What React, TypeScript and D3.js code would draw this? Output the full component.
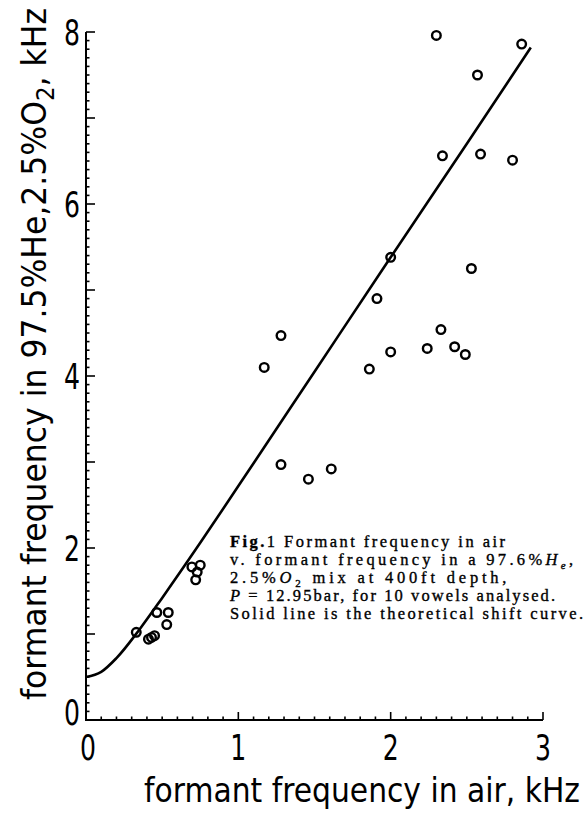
import React from 'react';
import * as d3 from 'd3';

// formant frequency in air (kHz) vs in 97.5%He / 2.5%O2 (kHz)
const airFreq = [
  0.33, 0.41, 0.43, 0.45, 0.465, 0.54, 0.53, 0.695, 0.75, 0.73, 0.72,
  1.17, 1.28, 1.28, 1.46, 1.61, 1.86, 1.91, 2.0, 2.0, 2.24, 2.33, 2.42,
  2.49, 2.53, 2.34, 2.59, 2.8, 2.57, 2.3, 2.86,
];
const heliumFreq = [
  1.02, 0.94, 0.96, 0.98, 1.25, 1.25, 1.11, 1.78, 1.8, 1.72, 1.63,
  4.1, 4.47, 2.97, 2.8, 2.92, 4.08, 4.9, 5.38, 4.28, 4.32, 4.54, 4.34,
  4.25, 5.25, 6.56, 6.58, 6.51, 7.5, 7.96, 7.86,
];

// theoretical shift curve
const curveAir = [0, 0.1, 0.2, 0.35, 0.5, 0.75, 1, 1.5, 2, 2.5, 2.92];
const curveHe = [0.5, 0.56, 0.72, 1.05, 1.42, 2.06, 2.72, 4.05, 5.38, 6.7, 7.82];

const xTickLabels = [0, 1, 2, 3];
const yTickLabels = [0, 2, 4, 6, 8];

const W = 588;
const H = 816;
const sans = "'DejaVu Sans', sans-serif";
const serif = "'Liberation Serif', 'DejaVu Serif', serif";

export default function App() {
  const x = d3.scaleLinear().domain([0, 3]).range([86, 543]);
  const y = d3.scaleLinear().domain([0, 8]).range([720, 32]);

  const line = d3
    .line<number>()
    .x((d, i) => x(curveAir[i]))
    .y((d) => y(d))
    .curve(d3.curveMonotoneX);

  const xMinor = d3.range(0, 31).map((i) => i / 10);
  const yMinor = d3.range(0, 81).map((i) => i / 10);

  return (
    <svg width={W} height={H} style={{ position: 'absolute', left: 0, top: 0, background: '#fff' }}>
      {/* axes */}
      <path
        d={`M${x(0)},${y(8)}V${y(0)}H${x(3)}`}
        fill="none"
        stroke="#000"
        strokeWidth={2}
      />
      {yMinor.map((v, i) => (
        <line
          key={'yt' + i}
          x1={x(0)}
          x2={x(0) + (i % 10 === 0 ? 9 : 3.5)}
          y1={y(v)}
          y2={y(v)}
          stroke="#000"
          strokeWidth={1.6}
        />
      ))}
      {xMinor.map((v, i) => (
        <line
          key={'xt' + i}
          x1={x(v)}
          x2={x(v)}
          y1={y(0)}
          y2={y(0) - (i % 10 === 0 ? 8 : 3.5)}
          stroke="#000"
          strokeWidth={1.6}
        />
      ))}

      {/* tick labels */}
      {yTickLabels.map((v) => (
        <text
          key={'yl' + v}
          x={72}
          y={v === 0 ? y(v) - 8 : y(v)}
          dy="0.36em"
          textAnchor="middle"
          fontFamily={sans}
          fontSize={36}
          textLength={16}
          lengthAdjust="spacingAndGlyphs"
        >
          {v}
        </text>
      ))}
      {xTickLabels.map((v) => (
        <text
          key={'xl' + v}
          x={x(v) + (v === 0 ? 2 : 0)}
          y={747}
          dy="0.36em"
          textAnchor="middle"
          fontFamily={sans}
          fontSize={36}
          textLength={16}
          lengthAdjust="spacingAndGlyphs"
        >
          {v}
        </text>
      ))}

      {/* axis titles */}
      <text
        x={144}
        y={802}
        fontFamily={sans}
        fontSize={33}
        textLength={436}
        lengthAdjust="spacingAndGlyphs"
      >
        formant frequency in air, kHz
      </text>
      <text
        transform="translate(46,700) rotate(-90)"
        fontFamily={sans}
        fontSize={33}
        textLength={692}
        lengthAdjust="spacingAndGlyphs"
      >
        formant frequency in 97.5%He,2.5%O
        <tspan fontSize={24} baselineShift={-8}>2</tspan>, kHz
      </text>

      {/* theoretical curve */}
      <path d={line(curveHe) || ''} fill="none" stroke="#000" strokeWidth={2.6} />

      {/* measured formants */}
      {airFreq.map((a, i) => (
        <circle
          key={'p' + i}
          cx={x(a)}
          cy={y(heliumFreq[i])}
          r={4.3}
          fill="none"
          stroke="#000"
          strokeWidth={2.4}
        />
      ))}

      {/* caption */}
      <g fontFamily={serif} fontSize={16.5} fill="#000" stroke="#000" strokeWidth={0.35}>
        <text x={230} y={547} textLength={275} lengthAdjust="spacing">
          <tspan fontWeight="bold">Fig.</tspan>1 Formant frequency in air
        </text>
        <text x={230} y={565} textLength={343} lengthAdjust="spacing">
          v. formant frequency in a 97.6%<tspan fontStyle="italic">H</tspan>
          <tspan fontStyle="italic" fontSize={11} baselineShift={-4}>e</tspan>,
        </text>
        <text x={230} y={583} letterSpacing={3.8}>
          2.5%<tspan fontStyle="italic">O</tspan>
          <tspan fontSize={11} baselineShift={-4}>2</tspan>
          {' mix at 400ft depth,'}
        </text>
        <text x={230} y={601} textLength={325} lengthAdjust="spacing">
          <tspan fontStyle="italic">P</tspan> = 12.95bar, for 10 vowels analysed.
        </text>
        <text x={230} y={619} textLength={353} lengthAdjust="spacing">
          Solid line is the theoretical shift curve.
        </text>
      </g>
    </svg>
  );
}
